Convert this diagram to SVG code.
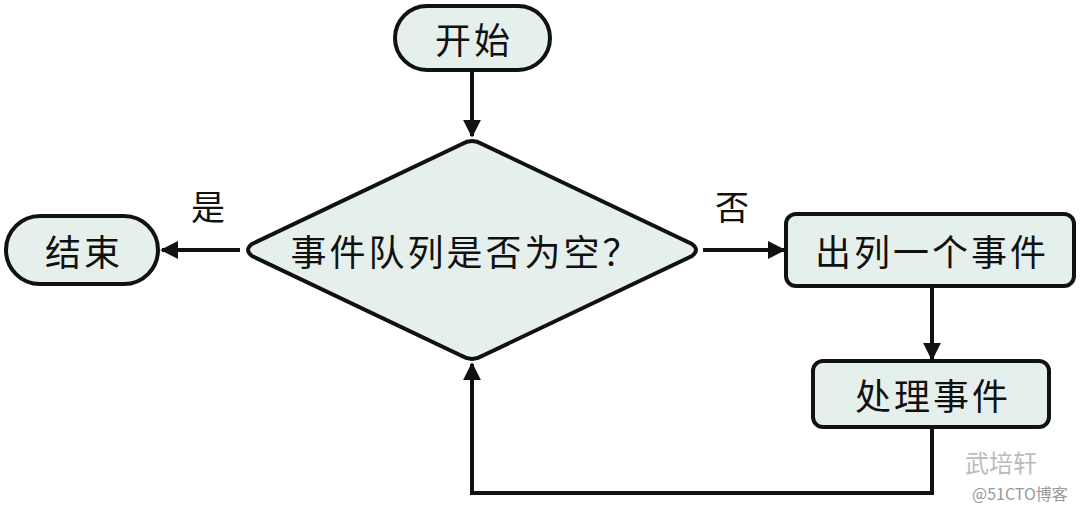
<svg xmlns="http://www.w3.org/2000/svg" width="1080" height="511" viewBox="0 0 1080 511">
<style>
.n{fill:#e5f0ec;stroke:#111;stroke-width:4}
.t{font-family:"Noto Sans CJK SC","Noto Sans",sans-serif;font-size:36px;letter-spacing:3px;fill:#111;text-anchor:middle;dominant-baseline:central}
.c{fill:none;stroke:#111;stroke-width:4}
.w{font-family:"Noto Sans CJK SC",sans-serif;fill:#bbb;text-anchor:start}
</style>
<defs><marker id="a" viewBox="0 0 10 10" refX="9" refY="5" markerWidth="4.5" markerHeight="4.5" orient="auto" markerUnits="strokeWidth"><path d="M0,0L10,5L0,10z" fill="#111"/></marker></defs>
<rect width="1080" height="511" fill="#fff"/>
<g id="start"><rect class="n" x="395" y="6" width="155" height="64" rx="32"/><text class="t" x="474" y="38">开始</text></g>
<g id="decision"><path class="n" d="M462,144Q472,138 482,144L692,244Q700,250 692,256L482,356Q472,362 462,356L252,256Q244,250 252,244Z"/><text class="t" x="466" y="250">事件队列是否为空？</text></g>
<g id="end"><rect class="n" x="6" y="216" width="152" height="68" rx="34"/><text class="t" x="84" y="250">结束</text></g>
<g id="dequeue"><rect class="n" x="786" y="214" width="288" height="72" rx="10"/><text class="t" x="932" y="250">出列一个事件</text></g>
<g id="process"><rect class="n" x="813" y="361" width="236" height="66" rx="10"/><text class="t" x="933" y="394">处理事件</text></g>
<g id="connectors">
<path class="c" d="M472,70V136" marker-end="url(#a)"/>
<path class="c" d="M240,250H162" marker-end="url(#a)"/>
<path class="c" d="M703,250H784" marker-end="url(#a)"/>
<path class="c" d="M932,286V359" marker-end="url(#a)"/>
<path class="c" d="M932,427V493H472V364" marker-end="url(#a)"/>
<text class="t" x="208" y="205" style="font-size:34px;letter-spacing:0">是</text>
<text class="t" x="732" y="205" style="font-size:34px;letter-spacing:0">否</text>
</g>
<text class="w" x="965" y="472" font-size="24">武培轩</text>
<text class="w" x="972" y="500" font-size="16" style="fill:#999">@51CTO博客</text>
</svg>
